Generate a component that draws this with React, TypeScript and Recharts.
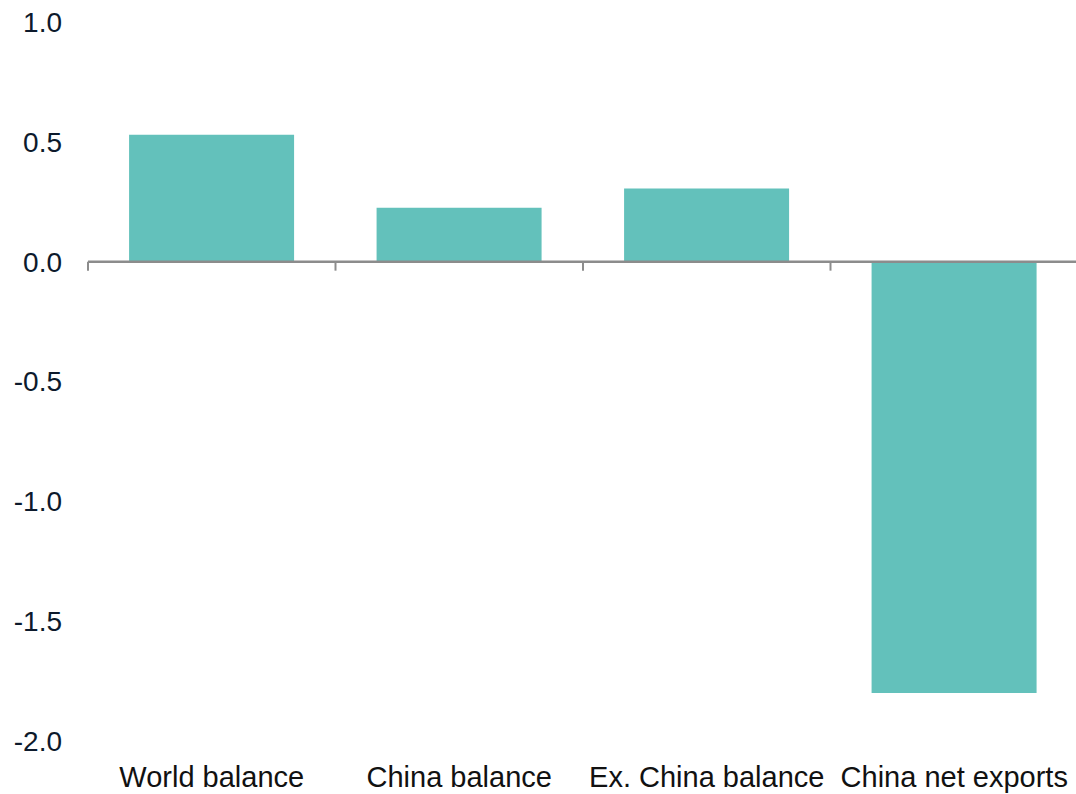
import { BarChart, Bar, XAxis, YAxis, ReferenceLine } from "recharts";

const categories = [
  "World balance",
  "China balance",
  "Ex. China balance",
  "China net exports",
];
const values = [0.53, 0.225, 0.305, -1.8];
const yTicks = [-2, -1.5, -1, -0.5, 0, 0.5, 1];

const data = categories.map((name, i) => ({ name, value: values[i] }));

const axisGray = "#8c8c8c";
const barColor = "#63c1bb";

// zero line with category boundary ticks hanging below it
const ZeroAxis = (props: any) => {
  const { x1, x2, y1 } = props;
  const step = (x2 - x1) / categories.length;
  const marks = [];
  for (let i = 0; i <= categories.length; i++) {
    const x = x1 + i * step;
    marks.push(
      <line key={i} x1={x} x2={x} y1={y1} y2={y1 + 9} stroke={axisGray} strokeWidth={2} />
    );
  }
  return (
    <g>
      <line x1={x1} x2={x2} y1={y1} y2={y1} stroke={axisGray} strokeWidth={2.5} />
      {marks}
    </g>
  );
};

const App = () => {
  return (
    <div
      style={{
        position: "absolute",
        left: 0,
        top: 0,
        width: 1076,
        height: 794,
        overflow: "hidden",
        background: "#fff",
      }}
    >
      <BarChart
        width={1078}
        height={794}
        data={data}
        margin={{ top: 22, right: 0, left: 0, bottom: 0 }}
        barCategoryGap="16.6%"
      >
        <XAxis
          dataKey="name"
          axisLine={false}
          tickLine={false}
          tickSize={0}
          tickMargin={25}
          height={53}
          interval={0}
          tick={{
            fontFamily: "Liberation Sans, Arial, sans-serif",
            fontSize: 29,
            fill: "#111111",
          }}
        />
        <YAxis
          domain={[-2, 1]}
          ticks={yTicks}
          width={88}
          axisLine={false}
          tickLine={false}
          tickSize={0}
          tickMargin={26}
          tickFormatter={(v: number) => v.toFixed(1)}
          tick={{
            fontFamily: "Liberation Sans, Arial, sans-serif",
            fontSize: 28,
            fill: "#0d1a2c",
          }}
        />
        <Bar dataKey="value" fill={barColor} isAnimationActive={false} />
        <ReferenceLine y={0} shape={ZeroAxis} />
      </BarChart>
    </div>
  );
};

export default App;
